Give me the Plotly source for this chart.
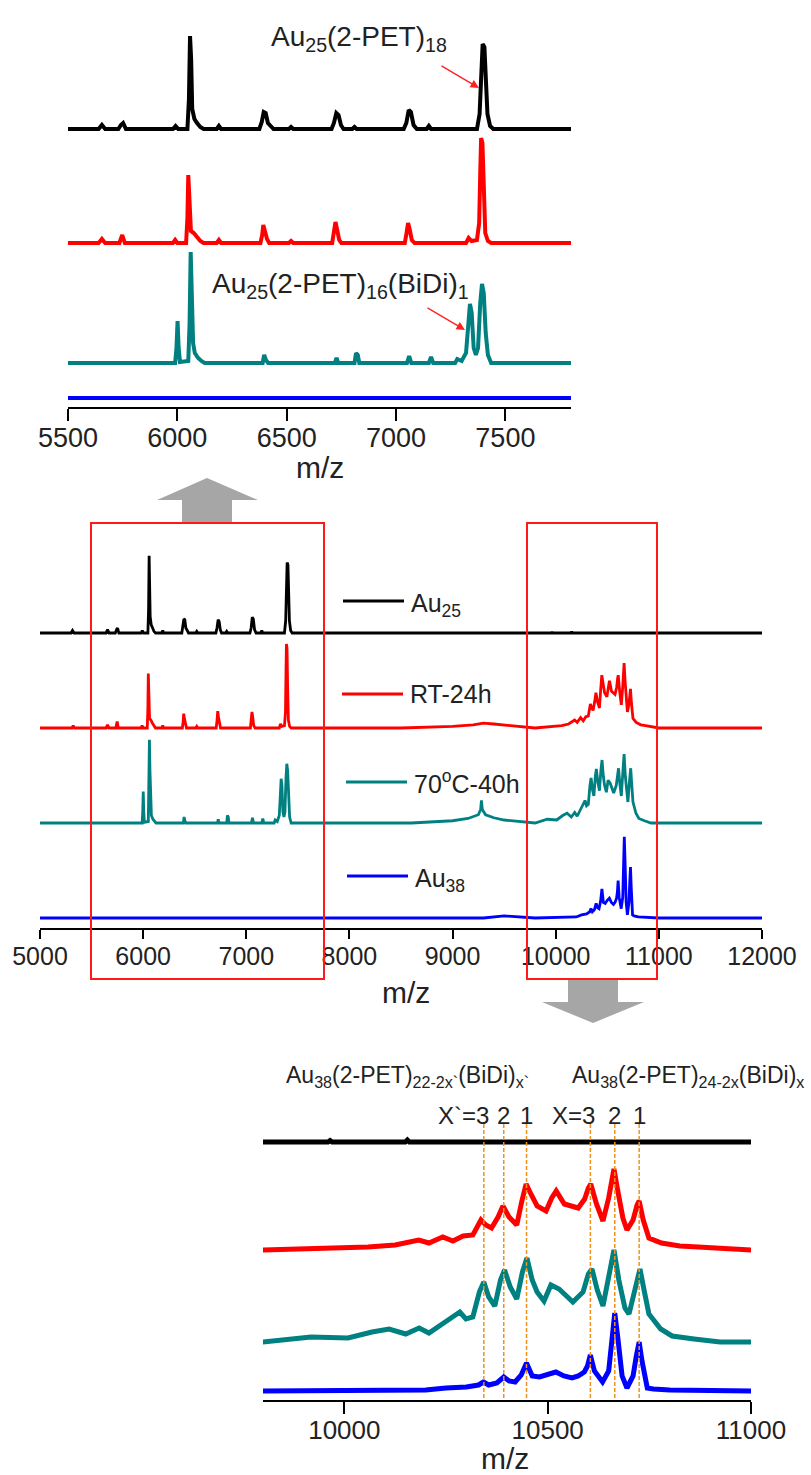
import plotly.graph_objects as go

# ---------------- data (m/z, relative intensity a.u.) ----------------
au25 = [(5000, 0), (5300, 0), (5315, 3), (5330, 0), (5640, 0), (5655, 4), (5670, 0), (5730, 0), (5742, 4), (5752, 6),
        (5765, 0), (5980, 0), (5992, 3), (6004, 0), (6046, 0), (6053, 30), (6058, 93), (6063, 70), (6068, 20), (6078, 10),
        (6090, 6), (6105, 2), (6120, 0), (6180, 0), (6190, 3), (6200, 0), (6375, 0), (6386, 7), (6395, 17), (6404, 16),
        (6414, 6), (6428, 3), (6440, 0), (6510, 0), (6520, 2), (6530, 0), (6705, 0), (6716, 6), (6727, 16), (6737, 14),
        (6748, 4), (6760, 0), (6800, 0), (6810, 2), (6820, 0), (7035, 0), (7047, 6), (7058, 19), (7068, 17), (7080, 4),
        (7095, 0), (7140, 0), (7150, 3), (7160, 0), (7370, 0), (7382, 15), (7390, 70), (7396, 85), (7404, 82), (7410, 55),
        (7418, 15), (7430, 3), (7445, 0), (9000, 0), (9960, 0), (9965, 1.5), (9970, 0), (10150, 0), (10155, 2),
        (10160, 0), (12000, 0)]

rt24h = [(5000, 0), (5310, 0), (5322, 3), (5335, 0), (5640, 0), (5655, 4), (5670, 0), (5735, 0), (5748, 8), (5760, 0),
         (5980, 0), (5990, 3), (6000, 0), (6040, 0), (6046, 25), (6050, 68), (6055, 45), (6062, 12), (6075, 10), (6090, 6),
         (6105, 2), (6120, 0), (6180, 0), (6190, 3), (6200, 0), (6380, 0), (6388, 8), (6393, 18), (6400, 12), (6410, 4),
         (6420, 0), (6510, 0), (6520, 2), (6530, 0), (6708, 0), (6717, 10), (6723, 21), (6730, 14), (6740, 3), (6750, 0),
         (7040, 0), (7048, 10), (7055, 20), (7062, 14), (7072, 3), (7085, 0), (7320, 0), (7332, 5), (7345, 2), (7370, 3),
         (7380, 20), (7385, 70), (7389, 105), (7395, 100), (7401, 50), (7408, 10), (7420, 2), (7435, 0), (8500, 0),
         (9000, 2), (9200, 4), (9300, 6), (9400, 5), (9550, 3), (9800, 0), (10058, 3), (10125, 5), (10183, 10),
         (10208, 7), (10242, 13), (10267, 9), (10292, 14), (10316, 15), (10328, 24), (10336, 30), (10348, 25),
         (10362, 22), (10378, 33), (10390, 44), (10405, 33), (10424, 25), (10436, 48), (10447, 66), (10460, 55),
         (10474, 44), (10496, 39), (10510, 52), (10521, 59), (10532, 52), (10541, 46), (10575, 42), (10591, 51),
         (10600, 62), (10606, 66), (10620, 46), (10636, 29), (10650, 52), (10658, 74), (10663, 81), (10672, 60),
         (10685, 32), (10695, 20), (10710, 30), (10720, 45), (10725, 49), (10735, 30), (10749, 12), (10780, 7),
         (10825, 4), (10870, 3), (10908, 2), (10960, 1), (11000, 0), (12000, 0)]

c70_40h = [(5000, 0), (5990, 0), (5996, 15), (6001, 42), (6006, 15), (6012, 1), (6050, 2), (6056, 40), (6061, 111),
           (6066, 70), (6072, 20), (6080, 10), (6095, 5), (6110, 2), (6125, 0), (6390, 0), (6397, 8), (6405, 3),
           (6415, 0), (6720, 0), (6728, 5), (6736, 0), (6810, 0), (6817, 10), (6825, 8), (6832, 0), (7050, 0),
           (7060, 7), (7070, 0), (7150, 0), (7160, 6), (7170, 0), (7270, 0), (7280, 4), (7300, 2), (7320, 10),
           (7330, 45), (7338, 59), (7346, 50), (7355, 15), (7365, 8), (7375, 15), (7385, 60), (7393, 79), (7401, 70),
           (7410, 30), (7420, 8), (7435, 0), (8600, 0), (9000, 3), (9150, 6), (9250, 11), (9272, 18), (9280, 30),
           (9288, 18), (9320, 11), (9400, 7), (9500, 4), (9700, 1), (9800, 0), (9918, 5), (10009, 4), (10068, 10),
           (10110, 13), (10151, 8), (10184, 14), (10208, 9), (10250, 21), (10284, 30), (10299, 23), (10316, 25),
           (10332, 50), (10343, 60), (10355, 45), (10370, 36), (10384, 62), (10394, 72), (10408, 55), (10424, 43),
           (10438, 70), (10449, 84), (10462, 62), (10474, 50), (10491, 41), (10508, 57), (10528, 53), (10545, 46),
           (10562, 40), (10587, 50), (10600, 68), (10609, 73), (10622, 52), (10636, 36), (10652, 70), (10663, 92),
           (10675, 62), (10690, 34), (10700, 28), (10715, 55), (10727, 73), (10738, 50), (10749, 28), (10778, 13),
           (10806, 6), (10860, 3), (10924, 0), (11000, 0), (12000, 0)]

au38 = [(5000, 0), (9300, 0), (9500, 2), (9700, 1), (9800, 0), (10200, 1), (10250, 3), (10300, 4), (10330, 6),
        (10342, 9), (10355, 6), (10375, 8), (10392, 14), (10405, 10), (10420, 9), (10435, 16), (10448, 28),
        (10462, 15), (10480, 14), (10500, 17), (10520, 19), (10540, 15), (10560, 13), (10575, 15), (10590, 19),
        (10598, 25), (10605, 36), (10615, 20), (10635, 9), (10650, 20), (10658, 55), (10665, 78), (10672, 55),
        (10683, 15), (10695, 3), (10710, 15), (10718, 35), (10725, 49), (10732, 30), (10745, 3), (10760, 2),
        (10800, 1), (11000, 0), (12000, 0)]

series_names = ["Au25", "RT-24h", "70oC-40h", "Au38"]
legend_labels = ["Au<sub>25</sub>", "RT-24h", "70<sup>o</sup>C-40h", "Au<sub>38</sub>"]
x_prime_peaks = [10343, 10392, 10448]   # X` = 3, 2, 1
x_peaks = [10605, 10665, 10725]         # X = 3, 2, 1

ticks_top = [5500, 6000, 6500, 7000, 7500]
ticks_mid = [5000, 6000, 7000, 8000, 9000, 10000, 11000, 12000]
ticks_bot = [10000, 10500, 11000]

# ---------------- styling ----------------
W, H = 811, 1475
colors = ["#000000", "#ff0000", "#008080", "#0000ff"]
spectra = [au25, rt24h, c70_40h, au38]
FONT = "Liberation Sans, Arial, sans-serif"
TXT = "#222222"


def X(px):
    return px / W


def Y(py):
    return 1 - py / H


# panel geometry (pixels): x0, x1, ytop, ybottom(axis line)
panels = [
    dict(x0=68, x1=571, top=0, bot=407, rng=[5500, 7800], ticks=ticks_top,
         offs=[129, 243, 363, 398], scl=[1, 1, 1, 1], lw=4, fs=27, tl=12, so=-6),
    dict(x0=40, x1=762, top=500, bot=928, rng=[5000, 12000], ticks=ticks_mid,
         offs=[633, 728, 823, 918], scl=[0.83, 0.8, 0.75, 1.04], lw=2.8, fs=25, tl=9, so=-4),
    dict(x0=263, x1=751, top=1100, bot=1400, rng=[9800, 11000], ticks=ticks_bot,
         offs=[1142, 1250, 1342, 1391], scl=[1, 1, 1, 1], lw=5, fs=26, tl=12, so=-6),
]

fig = go.Figure()
layout = {}
for i, p in enumerate(panels):
    sfx = "" if i == 0 else str(i + 1)
    for k, sp in enumerate(spectra):
        mz = [a for a, b in sp]
        inten = [b for a, b in sp]
        base = p["bot"] - p["offs"][k]
        fig.add_trace(go.Scatter(
            x=mz, y=[base + p["scl"][k] * v for v in inten], mode="lines",
            line=dict(color=colors[k], width=p["lw"]), name=series_names[k],
            showlegend=False, xaxis="x" + sfx, yaxis="y" + sfx, hoverinfo="skip"))
    layout["xaxis" + sfx] = dict(
        domain=[X(p["x0"]), X(p["x1"])], range=p["rng"], anchor="y" + sfx,
        showline=True, linecolor="black", linewidth=2, ticks="outside",
        ticklen=p["tl"], tickwidth=2, tickcolor="black", tickvals=p["ticks"],
        ticktext=[str(t) for t in p["ticks"]], showgrid=False, zeroline=False,
        ticklabelstandoff=p["so"],
        tickfont=dict(family=FONT, size=p["fs"], color=TXT), automargin=False)
    layout["yaxis" + sfx] = dict(
        domain=[Y(p["bot"]), Y(p["top"])], range=[0, p["bot"] - p["top"]],
        visible=False, anchor="x" + sfx, fixedrange=True)

fig.update_layout(**layout)

shapes = []
annos = []

# red boxes on the middle panel
for bx0, bx1 in [(91, 324), (527, 657)]:
    shapes.append(dict(type="rect", xref="paper", yref="paper", x0=X(bx0), x1=X(bx1),
                       y0=Y(979), y1=Y(523), line=dict(color="#ff1a1a", width=2)))

# grey arrows
up = [(207, 478), (258, 500), (232, 500), (232, 522), (182, 522), (182, 500), (157, 500)]
down = [(593, 1023), (644, 1002), (618, 1002), (618, 980), (568, 980), (568, 1002), (542, 1002)]
for poly in (up, down):
    path = "M " + " L ".join(f"{X(a):.5f},{Y(b):.5f}" for a, b in poly) + " Z"
    shapes.append(dict(type="path", xref="paper", yref="paper", path=path,
                       fillcolor="#a6a6a6", line=dict(width=0)))

# legend entries on the middle panel
leg = [(343, 404, 601), (342, 403, 694), (346, 407, 782), (347, 408, 876)]
for k, (lx0, lx1, ly) in enumerate(leg):
    shapes.append(dict(type="line", xref="paper", yref="paper", x0=X(lx0), x1=X(lx1),
                       y0=Y(ly), y1=Y(ly), line=dict(color=colors[k], width=3)))
    annos.append(dict(xref="paper", yref="paper", x=X(lx1 + 5), y=Y(ly + (4 if k in (0, 3) else 0)),
                      xanchor="left", yanchor="middle", text=legend_labels[k], showarrow=False,
                      font=dict(family=FONT, size=25, color=TXT)))

# dashed guide lines on bottom panel
for v in x_prime_peaks + x_peaks:
    shapes.append(dict(type="line", xref="x3", yref="paper", x0=v, x1=v, y0=Y(1398), y1=Y(1123),
                       line=dict(color="#f0921e", width=1.5, dash="4px,2px")))

# axis titles
for (mx, my) in [(320, 467), (406, 992), (505, 1458)]:
    annos.append(dict(xref="paper", yref="paper", x=X(mx), y=Y(my), xanchor="center", yanchor="middle",
                      text="m/z", showarrow=False, font=dict(family=FONT, size=30, color=TXT)))

# top panel labels
annos.append(dict(xref="paper", yref="paper", x=X(269), y=Y(38), xanchor="left", yanchor="middle",
                  text="Au<sub>25</sub>(2-PET)<sub>18</sub>", showarrow=False,
                  font=dict(family=FONT, size=28, color=TXT)))
annos.append(dict(xref="paper", yref="paper", x=X(210), y=Y(285), xanchor="left", yanchor="middle",
                  text="Au<sub>25</sub>(2-PET)<sub>16</sub>(BiDi)<sub>1</sub>", showarrow=False,
                  font=dict(family=FONT, size=28, color=TXT)))
for (hx, hy, tx, ty) in [(479, 88, 440, 65), (465, 330, 426, 307)]:
    annos.append(dict(xref="paper", yref="paper", x=X(hx), y=Y(hy), ax=tx - hx, ay=ty - hy,
                      text="", showarrow=True, arrowhead=2, arrowsize=1.3, arrowwidth=1.3,
                      arrowcolor="#ff2020", standoff=0))

# bottom panel labels
annos.append(dict(xref="paper", yref="paper", x=X(284), y=Y(1076), xanchor="left", yanchor="middle",
                  text="Au<sub>38</sub>(2-PET)<sub>22-2x`</sub>(BiDi)<sub>x`</sub>", showarrow=False,
                  font=dict(family=FONT, size=23, color=TXT)))
annos.append(dict(xref="paper", yref="paper", x=X(570), y=Y(1076), xanchor="left", yanchor="middle",
                  text="Au<sub>38</sub>(2-PET)<sub>24-2x</sub>(BiDi)<sub>x</sub>", showarrow=False,
                  font=dict(family=FONT, size=23, color=TXT)))
for peaks, prefix in [(x_prime_peaks, "X`="), (x_peaks, "X=")]:
    for j, v in enumerate(peaks):
        lab = (prefix + "3") if j == 0 else str(3 - j)
        annos.append(dict(xref="x3", yref="paper", x=v, y=Y(1115),
                          xanchor="right" if j == 0 else "center", xshift=7 if j == 0 else 0,
                          yanchor="middle", text=lab, showarrow=False,
                          font=dict(family=FONT, size=24, color=TXT)))

fig.update_layout(width=W, height=H, margin=dict(l=0, r=0, t=0, b=0),
                  paper_bgcolor="white", plot_bgcolor="white", template="none",
                  shapes=shapes, annotations=annos, showlegend=False)

fig.write_html("out.html")
